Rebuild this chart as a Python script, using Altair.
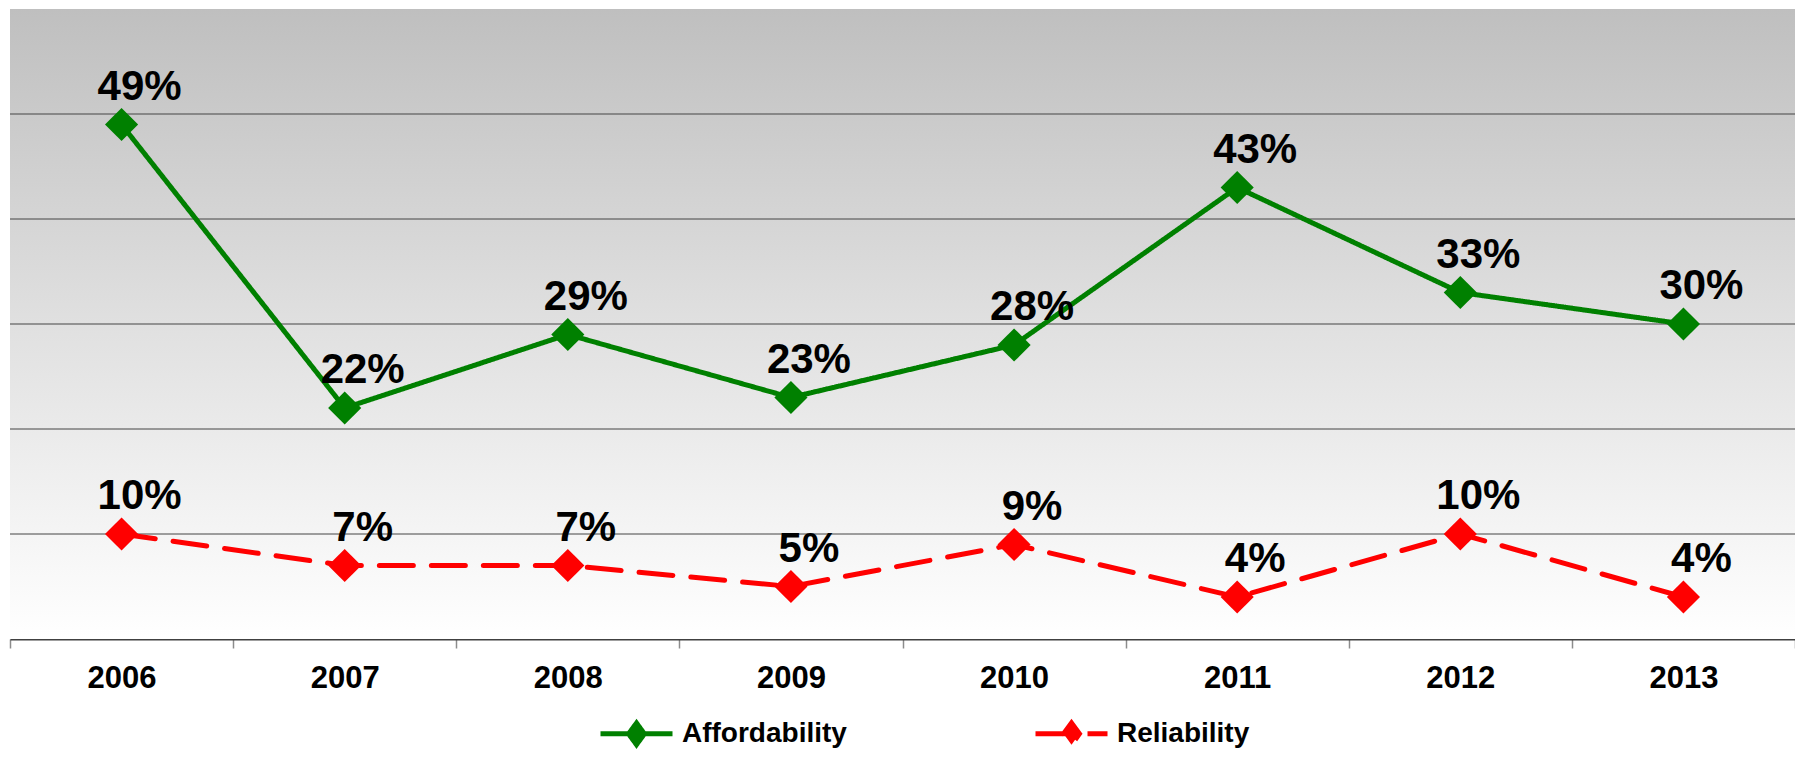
import altair as alt
import pandas as pd

years = ["2006", "2007", "2008", "2009", "2010", "2011", "2012", "2013"]
series_names = ["Affordability", "Reliability"]
affordability = [49, 22, 29, 23, 28, 43, 33, 30]
reliability = [10, 7, 7, 5, 9, 4, 10, 4]
grid_vals = [10, 20, 30, 40, 50]
colors = ["#008000", "#ff0000"]

rows = []
for y, a, r in zip(years, affordability, reliability):
    rows.append({"year": y, "series": "Affordability", "value": a})
    rows.append({"year": y, "series": "Reliability", "value": r})
df = pd.DataFrame(rows)
grid_df = pd.DataFrame({"g": grid_vals})

W, H = 1785, 630
FONT = "Liberation Sans"

x_enc = alt.X(
    "year:N",
    sort=years,
    scale=alt.Scale(domain=years, paddingInner=0, paddingOuter=0),
    axis=alt.Axis(
        title=None,
        labelAngle=0,
        labelFont=FONT,
        labelFontSize=31,
        labelFontWeight="bold",
        labelColor="black",
        labelPadding=15,
        domainColor="#404040",
        domainWidth=2,
        tickColor="#8c8c8c",
        tickWidth=1.5,
        tickSize=9,
        tickBand="extent",
        grid=False,
    ),
)
y_scale = alt.Scale(domain=[0, 60], nice=False, zero=True)
y_enc = alt.Y("value:Q", scale=y_scale,
              axis=alt.Axis(title=None, labels=False, ticks=False, domain=False, grid=False))

legend_path = "M-1,0L1,0M-0.22,0L0,-0.3L0.22,0L0,0.3Z"
leg = alt.Legend(
    title=None,
    orient="none",
    legendX=588,
    legendY=686,
    direction="horizontal",
    symbolType=legend_path,
    symbolSize=5184,
    symbolStrokeWidth=5,
    symbolOpacity=1,
    labelFont=FONT,
    labelFontSize=28,
    labelFontWeight="bold",
    labelColor="black",
    labelOffset=7,
    labelLimit=400,
    columnPadding=178,
)
color_enc = alt.Color("series:N", scale=alt.Scale(domain=series_names, range=colors), legend=leg)
dash_enc = alt.StrokeDash("series:N", scale=alt.Scale(domain=series_names, range=[[1, 0], [34, 18]]), legend=leg)

bg = alt.Chart(grid_df).mark_rect(
    color=alt.Gradient(
        gradient="linear",
        stops=[
            alt.GradientStop(color="#bfbfbf", offset=0),
            alt.GradientStop(color="#e0e0e0", offset=0.5),
            alt.GradientStop(color="#ffffff", offset=1),
        ],
        x1=0, x2=0, y1=0, y2=1,
    )
).encode(x=alt.value(0), x2=alt.value(W), y=alt.value(0), y2=alt.value(H))

grid = alt.Chart(grid_df).mark_rule(color="#444444", strokeWidth=1).encode(
    y=alt.Y("g:Q", scale=y_scale, axis=None)
)

lines = alt.Chart(df).mark_line(strokeWidth=5, strokeCap="round").encode(
    x=x_enc, y=y_enc, color=color_enc, strokeDash=dash_enc, detail="series:N"
)

points = alt.Chart(df).mark_point(shape="diamond", filled=True, size=1100, opacity=1).encode(
    x=x_enc, y=y_enc, color=color_enc
)

labels = alt.Chart(df).transform_calculate(
    lab="format(datum.value, 'd') + '%'"
).mark_text(
    dx=18, dy=-38, font=FONT, fontSize=42, fontWeight="bold", color="black", baseline="middle"
).encode(x=x_enc, y=y_enc, text="lab:N")

chart = alt.layer(bg, grid, lines, points, labels).properties(
    width=W,
    height=H,
    autosize=alt.AutoSizeParams(type="none"),
    padding={"left": 2, "top": 1, "right": 0, "bottom": 112},
).configure_view(
    stroke="#8a8a8a", strokeWidth=2.5
).configure(background="white")

chart.save("out.html", embed_options={"renderer": "svg", "actions": False})
